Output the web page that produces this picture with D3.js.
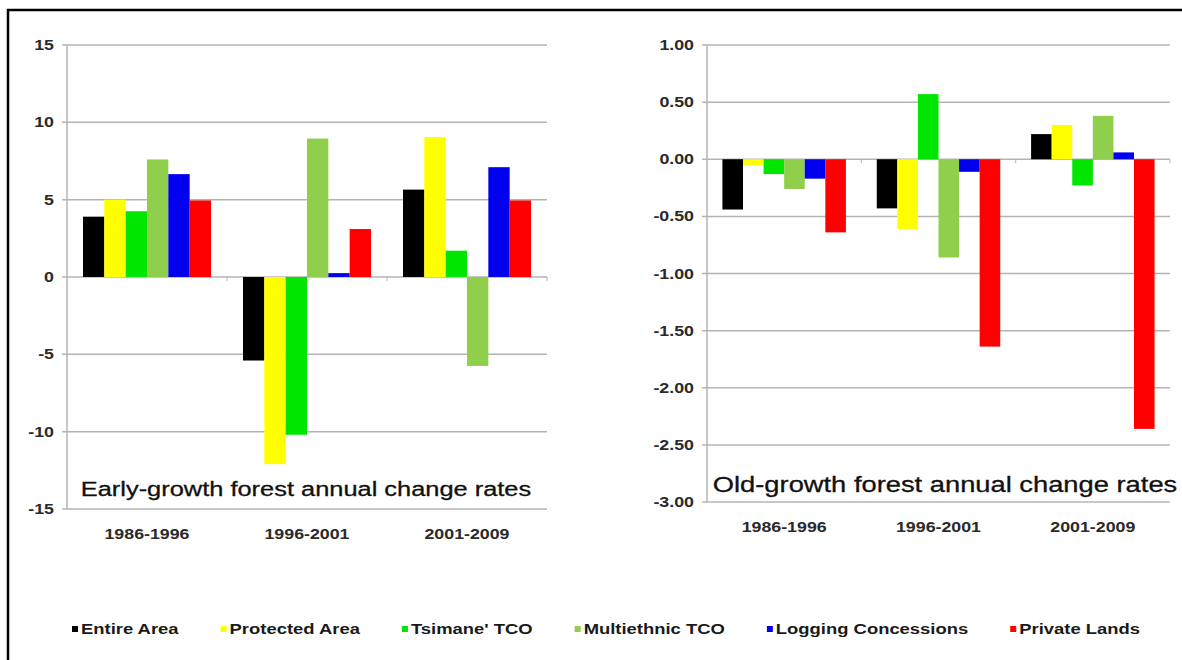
<!DOCTYPE html>
<html>
<head>
<meta charset="utf-8">
<script src="https://cdn.jsdelivr.net/npm/d3@7"></script>
<style>
  html, body { margin: 0; padding: 0; background: #fff; }
  svg { display: block; }
  text { font-family: "Liberation Sans", Arial, sans-serif; }
</style>
</head>
<body>
<svg id="chart" width="1182" height="660"></svg>
<script>
const categories = ["1986-1996", "1996-2001", "2001-2009"];
const seriesNames = ["Entire Area", "Protected Area", "Tsimane' TCO", "Multiethnic TCO", "Logging Concessions", "Private Lands"];
const seriesColors = ["#000000", "#ffff00", "#00e600", "#8fcf4c", "#0000ee", "#ff0000"];

// Early-growth forest annual change rates (per series, per period)
const earlyEntire     = [3.9, -5.4, 5.65];
const earlyProtected  = [5.0, -12.1, 9.05];
const earlyTsimane    = [4.25, -10.2, 1.7];
const earlyMulti      = [7.6, 8.95, -5.75];
const earlyLogging    = [6.65, 0.25, 7.1];
const earlyPrivate    = [4.95, 3.1, 4.95];
const earlyTicks = [-15, -10, -5, 0, 5, 10, 15];

// Old-growth forest annual change rates
const oldEntire     = [-0.44, -0.43, 0.22];
const oldProtected  = [-0.05, -0.61, 0.30];
const oldTsimane    = [-0.13, 0.57, -0.23];
const oldMulti      = [-0.26, -0.86, 0.38];
const oldLogging    = [-0.17, -0.11, 0.06];
const oldPrivate    = [-0.64, -1.64, -2.36];
const oldTicks = [-3, -2.5, -2, -1.5, -1, -0.5, 0, 0.5, 1];

const earlyTitle = "Early-growth forest annual change rates";
const oldTitle = "Old-growth forest annual change rates";

const earlySeries = [earlyEntire, earlyProtected, earlyTsimane, earlyMulti, earlyLogging, earlyPrivate];
const oldSeries = [oldEntire, oldProtected, oldTsimane, oldMulti, oldLogging, oldPrivate];

const SX = 1.27; // horizontal stretch of the original picture
const svg = d3.select("#chart");
const loc = d3.formatLocale({decimal: ".", thousands: ",", grouping: [3], currency: ["", ""], minus: "-"});

function stretch(sel) {
  sel.each(function () {
    const w = this.getComputedTextLength();
    this.setAttribute("textLength", w * SX);
    this.setAttribute("lengthAdjust", "spacingAndGlyphs");
  });
}

// frame
svg.append("path")
  .attr("d", "M8,660 L8,10 L1182,10")
  .attr("fill", "none").attr("stroke", "#000").attr("stroke-width", 2.5);

function panel(cfg) {
  const g = svg.append("g");
  const x0 = d3.scaleBand().domain(categories).range([cfg.left, cfg.right]).padding(0);
  const gap = x0.bandwidth() * 0.1;
  const x1 = d3.scaleBand().domain(d3.range(seriesNames.length)).range([gap, x0.bandwidth() - gap]).padding(0);
  const y = d3.scaleLinear().domain(cfg.domain).range([cfg.bottom, cfg.top]);

  // gridlines
  g.selectAll("line.grid").data(cfg.ticks).join("line")
    .attr("class", "grid")
    .attr("x1", cfg.left - 5).attr("x2", cfg.right)
    .attr("y1", d => y(d)).attr("y2", d => y(d))
    .attr("stroke", "#b4b4b4").attr("stroke-width", 1.5);

  // y axis line
  g.append("line")
    .attr("x1", cfg.left).attr("x2", cfg.left)
    .attr("y1", y(cfg.domain[1])).attr("y2", y(cfg.domain[0]))
    .attr("stroke", "#b4b4b4").attr("stroke-width", 1.5);

  // category ticks on zero line
  g.selectAll("line.ct").data(categories).join("line")
    .attr("class", "ct")
    .attr("x1", d => x0(d) + x0.bandwidth())
    .attr("x2", d => x0(d) + x0.bandwidth())
    .attr("y1", y(0)).attr("y2", y(0) + 4)
    .attr("stroke", "#b4b4b4").attr("stroke-width", 1);

  // bars
  cfg.series.forEach((vals, si) => {
    g.selectAll(null).data(vals).join("rect")
      .attr("x", (d, i) => x0(categories[i]) + x1(si))
      .attr("width", x1.bandwidth())
      .attr("y", d => Math.min(y(d), y(0)))
      .attr("height", d => Math.abs(y(d) - y(0)))
      .attr("fill", seriesColors[si]);
  });

  // y tick labels
  const yl = g.selectAll("text.yl").data(cfg.ticks).join("text")
    .attr("class", "yl")
    .attr("x", cfg.left - 13).attr("y", d => y(d))
    .attr("dy", "0.36em")
    .attr("text-anchor", "end")
    .attr("font-size", 14).attr("font-weight", "bold").attr("fill", "#2a2a2a")
    .text(cfg.fmt);
  stretch(yl);

  // category labels
  const cl = g.selectAll("text.cl").data(categories).join("text")
    .attr("class", "cl")
    .attr("x", d => x0(d) + x0.bandwidth() / 2)
    .attr("y", y(cfg.domain[0]) + 25)
    .attr("dy", "0.36em")
    .attr("text-anchor", "middle")
    .attr("font-size", 14).attr("font-weight", "bold").attr("fill", "#2a2a2a")
    .text(d => d);
  stretch(cl);

  // title
  const t = g.append("text")
    .attr("x", cfg.titleX).attr("y", cfg.titleY)
    .attr("text-anchor", "middle")
    .attr("font-size", cfg.titleSize).attr("fill", "#111")
    .attr("stroke", "#111").attr("stroke-width", 0.3)
    .text(cfg.title);
  stretch(t);
}

panel({
  left: 67, right: 547, top: 45, bottom: 509,
  domain: [-15, 15], ticks: earlyTicks, series: earlySeries,
  fmt: d => loc.format("d")(d),
  title: earlyTitle, titleX: 306, titleY: 496, titleSize: 20
});

panel({
  left: 707, right: 1170, top: 45, bottom: 502,
  domain: [-3, 1], ticks: oldTicks, series: oldSeries,
  fmt: d => loc.format(".2f")(d),
  title: oldTitle, titleX: 945, titleY: 492, titleSize: 21.5
});

// legend: spread entries between a left start and a right end
const lg = svg.append("g");
const legStart = 72, legEnd = 1140, ly = 629, mk = 6, pad = 9;
const items = seriesNames.map((name, i) => {
  const t = lg.append("text")
    .attr("y", ly).attr("dy", "0.36em")
    .attr("font-size", 14.5).attr("font-weight", "bold").attr("fill", "#1a1a1a")
    .text(name);
  const w = t.node().getComputedTextLength() * SX;
  t.attr("textLength", w).attr("lengthAdjust", "spacingAndGlyphs");
  return {t, w, i};
});
const used = d3.sum(items, d => d.w + pad);
const legGap = (legEnd - legStart - used) / (items.length - 1);
let lx = legStart;
items.forEach(d => {
  lg.append("rect")
    .attr("x", lx).attr("y", ly - mk / 2).attr("width", mk).attr("height", mk)
    .attr("fill", seriesColors[d.i]);
  d.t.attr("x", lx + pad);
  lx += pad + d.w + legGap;
});
</script>
</body>
</html>
